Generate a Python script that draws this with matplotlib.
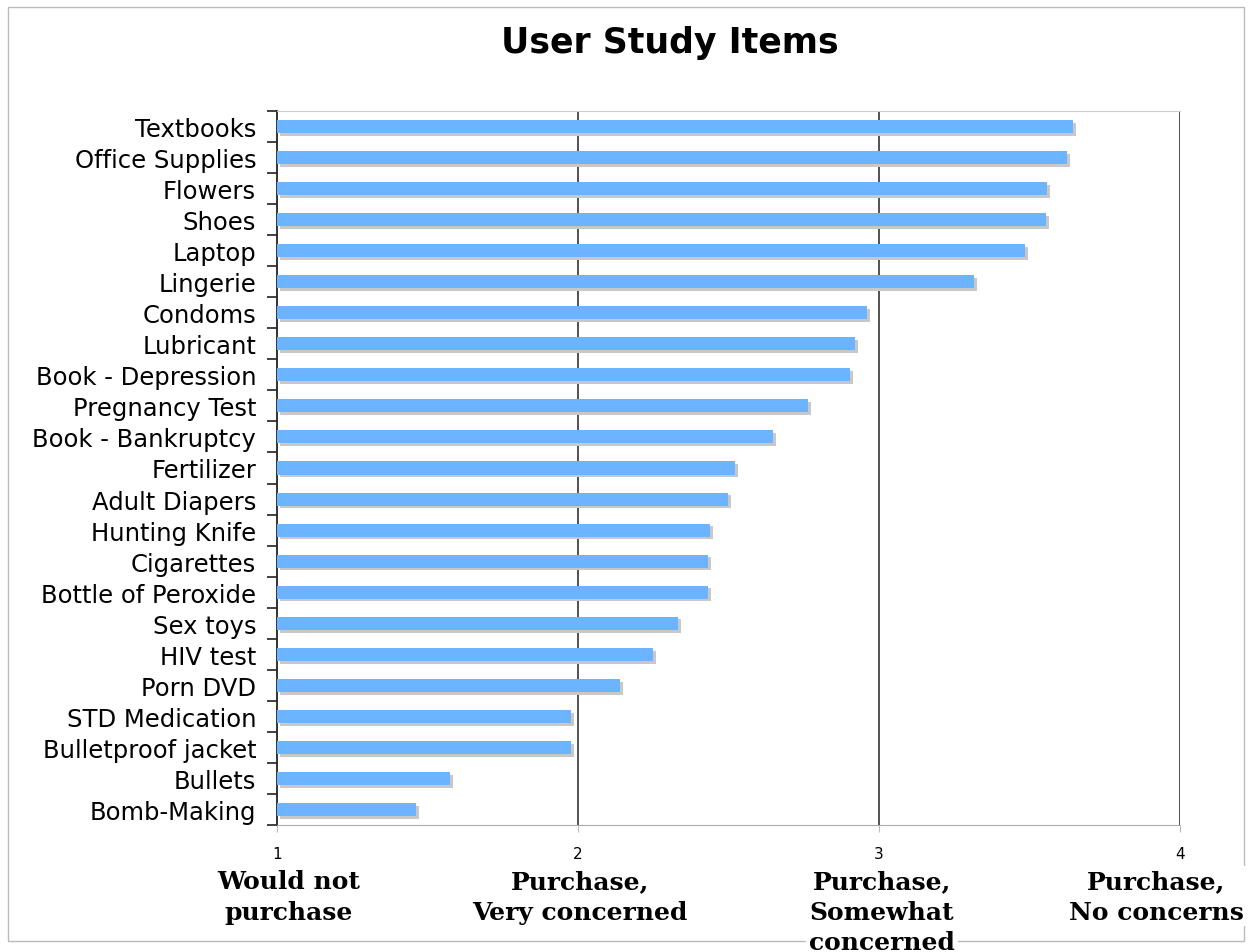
import matplotlib.pyplot as plt
import numpy as np
from matplotlib.patches import Rectangle

items = ['Textbooks', 'Office Supplies', 'Flowers', 'Shoes', 'Laptop', 'Lingerie',
         'Condoms', 'Lubricant', 'Book - Depression', 'Pregnancy Test',
         'Book - Bankruptcy', 'Fertilizer', 'Adult Diapers', 'Hunting Knife',
         'Cigarettes', 'Bottle of Peroxide', 'Sex toys', 'HIV test', 'Porn DVD',
         'STD Medication', 'Bulletproof jacket', 'Bullets', 'Bomb-Making']
scores = [3.645, 3.625, 3.558, 3.555, 3.485, 3.316, 2.96, 2.92, 2.904, 2.764,
          2.648, 2.522, 2.498, 2.439, 2.432, 2.432, 2.332, 2.249, 2.14,
          1.977, 1.977, 1.575, 1.462]
ticks = [1, 2, 3, 4]
scale_labels = ['Would not\npurchase', 'Purchase,\nVery concerned',
                'Purchase,\nSomewhat\nconcerned', 'Purchase,\nNo concerns']

W, H = 1249, 953
fig = plt.figure(figsize=(W / 100, H / 100), dpi=100)
ax = fig.add_axes([277 / W, 1 - 826 / H, (1180 - 277) / W, (826 - 112) / H])

# outer frame
fig.patches.append(Rectangle((8 / W, 1 - 942 / H), (1244 - 8) / W, (942 - 8) / H,
                             transform=fig.transFigure, fill=False,
                             edgecolor='#bbbbbb', linewidth=1))

y = np.arange(len(items))
vals = np.array(scores) - 1
ax.barh(y + 0.09, vals, left=1.01, height=0.42, color='#c8c8c8', zorder=2)
ax.barh(y, vals, left=1, height=0.42, color='#6cb4ff', zorder=3)

ax.set_xlim(1, 4)
ax.set_ylim(len(items) - 0.5, -0.5)

for t in ticks[1:]:
    ax.axvline(t, color='#222222', linewidth=1.1, zorder=1)

ax.set_yticks(y)
ax.set_yticklabels(items, fontsize=17.5, family='DejaVu Sans')
ax.set_yticks(np.arange(len(items) + 1) - 0.5, minor=True)
ax.tick_params(axis='y', which='major', length=0, pad=15)
ax.tick_params(axis='y', which='minor', length=7, width=1.3, color='#333333', direction='out')

ax.set_xticks(ticks)
ax.set_xticklabels([str(t) for t in ticks], fontsize=11)
ax.tick_params(axis='x', length=5, color='#bbbbbb', pad=10)

ax.spines['left'].set_color('#222222')
ax.spines['left'].set_linewidth(1.3)
ax.spines['right'].set_visible(False)
ax.spines['top'].set_color('#cccccc')
ax.spines['bottom'].set_color('#aaaaaa')

fig.text(670 / W, 1 - 43 / H, 'User Study Items', ha='center', va='center',
         fontsize=25, fontweight='bold', family='DejaVu Sans')

label_x = [289, 580, 882, 1156]
for lx, lab in zip(label_x, scale_labels):
    fig.text(lx / W, 1 - 870 / H, lab, ha='center', va='top', fontsize=18,
             fontweight='bold', family='DejaVu Serif', linespacing=1.35,
             bbox=dict(facecolor='white', edgecolor='none', pad=2))

fig.savefig('out.png', dpi=100)
